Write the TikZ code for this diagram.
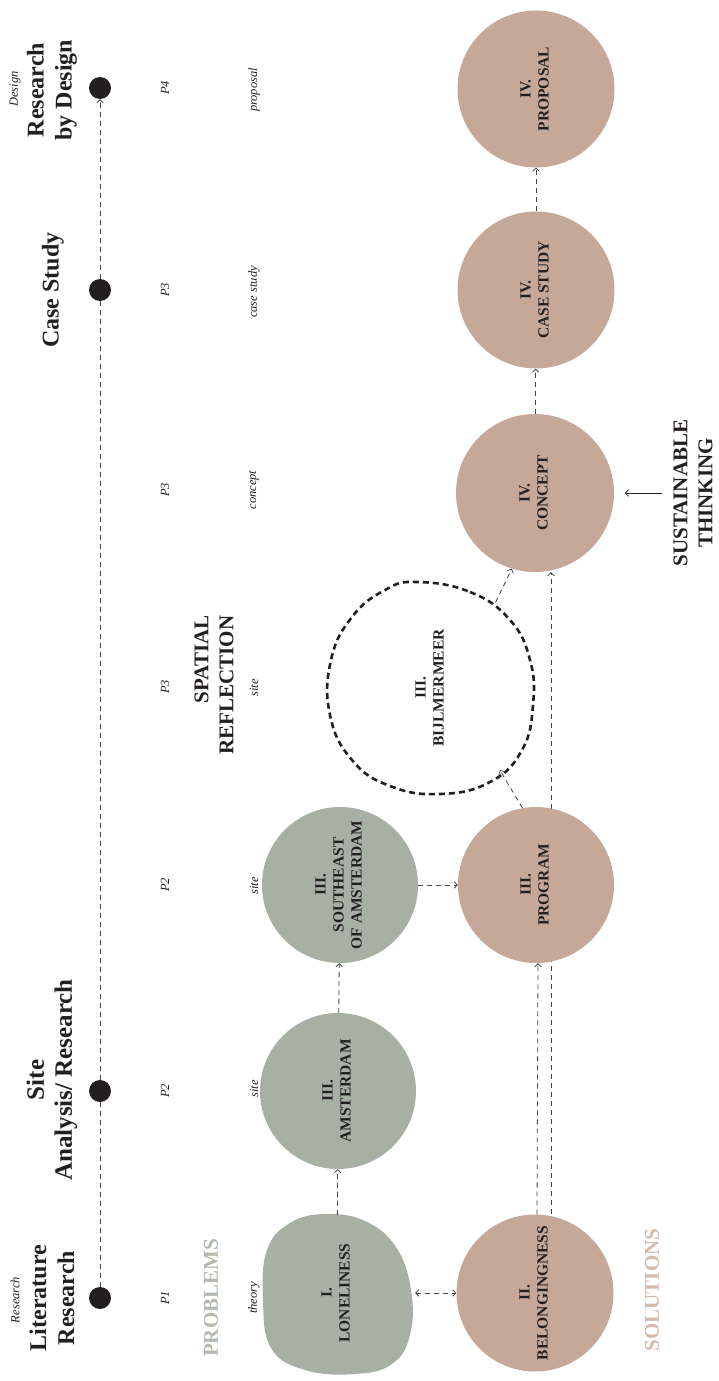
\documentclass[tikz,border=0pt]{standalone}
\usepackage{fontspec}
\setmainfont{Liberation Serif}
\usetikzlibrary{arrows.meta,backgrounds,positioning}

\definecolor{sage}{RGB}{168,176,163}
\definecolor{clay}{RGB}{198,168,152}
\definecolor{sagetext}{RGB}{178,185,173}
\definecolor{claytext}{RGB}{212,187,174}
\definecolor{ink}{RGB}{35,31,32}

\newcommand{\vtext}[1]{\rotatebox{90}{\begin{tabular}{@{}c@{}}#1\end{tabular}}}

\tikzset{
  >={Straight Barb[length=3pt,width=6.5pt]},
  dot/.style={circle, fill=ink, minimum size=22pt, inner sep=0pt},
  title/.style={rotate=90, align=center, text=ink, font=\bfseries\fontsize{24}{28}\selectfont},
  heading/.style={rotate=90, align=center, font=\bfseries\fontsize{21}{25}\selectfont},
  note/.style={rotate=90, text=ink, font=\itshape\fontsize{12.5}{14}\selectfont},
  stage/.style={circle, minimum size=156pt, inner sep=0pt, text=ink, font=\bfseries\fontsize{15.5}{18}\selectfont},
  link/.style={draw=ink!85, line width=0.8pt, dash pattern=on 5pt off 4pt},
}

\begin{document}
\begin{tikzpicture}[x=1pt,y=1pt,yscale=-1,xscale=1]
\useasboundingbox (0,0) rectangle (719,1381);

%Shape: Circle (timeline dots)
\draw (100,1298) node [dot] (t1) {};
\draw (100,1091) node [dot] (t2) {};
\draw (100,290) node [dot] (t3) {};
\draw (100,88) node [dot] (t4) {};

% Text Node
\draw (52,1298) node [title] {Literature\\Research};
% Text Node
\draw (52,1080) node [title, font=\bfseries\fontsize{25}{28}\selectfont] {Site\\Analysis/ Research};
% Text Node
\draw (53,290) node [title] {Case Study};
% Text Node
\draw (52,90) node [title] {Research\\by Design};
% Text Node
\draw (15,1300) node [note] {Research};
% Text Node
\draw (15,89) node [note] {Design};

% Text Node
\draw (165,1298) node [note] {P1};
\draw (165,1091) node [note] {P2};
\draw (165,885) node [note] {P2};
\draw (165,687) node [note] {P3};
\draw (165,490) node [note] {P3};
\draw (165,290) node [note] {P3};
\draw (165,88) node [note] {P4};

% Text Node
\draw (254,1298) node [note] {theory};
\draw (254,1089) node [note] {site};
\draw (254,886) node [note] {site};
\draw (254,688) node [note] {site};
\draw (254,490) node [note] {concept};
\draw (254,292) node [note] {case study};
\draw (254,90) node [note] {proposal};

% Text Node
\draw (211,1298) node [heading, text=sagetext] {PROBLEMS};
\draw (214,685) node [heading, text=ink, align=right] {SPATIAL\\REFLECTION};
\draw (652,1290) node [heading, text=claytext] {SOLUTIONS};
\draw (693,493) node [heading, text=ink] (sus) {SUSTAINABLE\\THINKING};

%Shape: Blob (loneliness)
\fill [sage] plot [smooth cycle, tension=0.7] coordinates {(263,1300) (267,1250) (290,1223) (325,1214) (365,1221) (396,1247) (411,1290) (410,1335) (392,1364) (355,1374) (305,1370) (271,1348)};
\draw (337,1293) node [stage] (lon) {\vtext{I.\\LONELINESS}};

%Shape: Circle
\draw (338,1091) node [stage, fill=sage] (ams) {\vtext{III.\\AMSTERDAM}};
\draw (340,885) node [stage, fill=sage] (se) {\vtext{III.\\SOUTHEAST\\OF AMSTERDAM}};
\draw (535,1293) node [stage, fill=clay, minimum size=157pt] (bel) {\vtext{II.\\BELONGINGNESS}};
\draw (536,885) node [stage, fill=clay] (prog) {\vtext{III.\\PROGRAM}};
\draw (535,493) node [stage, fill=clay, minimum size=158pt] (con) {\vtext{IV.\\CONCEPT}};
\draw (536,290) node [stage, fill=clay, minimum size=157pt] (cs) {\vtext{IV.\\CASE STUDY}};
\draw (536,89) node [stage, fill=clay, minimum size=157pt] (prop) {\vtext{IV.\\PROPOSAL}};

%Shape: Dashed blob (bijlmermeer)
\draw [ink, line width=2.6pt, dash pattern=on 6pt off 4pt] plot [smooth cycle, tension=0.75] coordinates {(417,582) (470,592) (510,620) (530,660) (533,705) (522,750) (490,782) (440,794) (390,786) (352,760) (330,715) (331,660) (352,617) (385,590)};
\draw (431,688) node [stage, minimum size=214pt] (bij) {\vtext{III.\\BIJLMERMEER}};

%Straight Lines
\begin{scope}[on background layer]
\draw [link,->] (t1) -- (t4);
\draw [link,->] ([xshift=16pt]bel.north) -- ([xshift=16pt]con.south);
\end{scope}
\draw [link,<->] (lon) -- (bel);
\draw [link,->] (lon) -- (ams);
\draw [link,->] (ams) -- (se);
\draw [link,->] (se) -- (prog);
\draw [link,->] ([xshift=2pt]bel.north) -- ([xshift=2pt]prog.south);
\draw [link,->] (prog.100) -- (bij.-50);
\draw [link,->] (bij.53) -- (con.-107);
\draw [link,->] (con) -- (cs);
\draw [link,->] (cs) -- (prop);

\coordinate (sustip) at (625,493);
\draw [ink, line width=0.8pt, ->, shorten <=8pt] (sus) -- (sustip);

\end{tikzpicture}
\end{document}
